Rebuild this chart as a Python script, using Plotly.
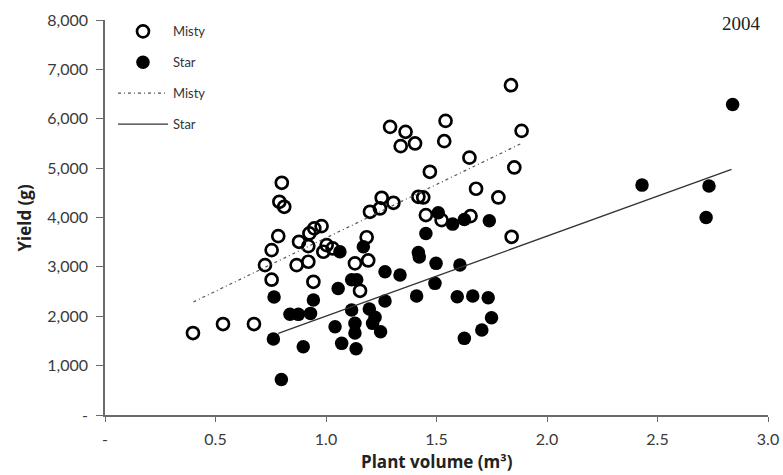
import plotly.graph_objects as go

# Misty (open circles)
misty_x = [0.398, 0.534, 0.674, 0.724, 0.754, 0.754, 0.784, 0.789, 0.800, 0.811,
           0.867, 0.878, 0.920, 0.920, 0.925, 0.947, 0.943, 0.980, 0.988, 1.003,
           1.030, 1.131, 1.154, 1.184, 1.191, 1.199, 1.244, 1.252, 1.290, 1.305,
           1.338, 1.360, 1.403, 1.418, 1.440, 1.452, 1.470, 1.523, 1.535, 1.541,
           1.649, 1.654, 1.679, 1.780, 1.837, 1.840, 1.852, 1.885]
misty_y = [1660, 1842, 1842, 3036, 3340, 2740, 3623, 4318, 4703, 4217,
           3036, 3508, 3421, 3104, 3678, 3779, 2698, 3826, 3306, 3441,
           3374, 3071, 2515, 3600, 3130, 4115, 4183, 4399, 5836, 4298,
           5445, 5735, 5500, 4419, 4406, 4049, 4926, 3947, 5546, 5957,
           5212, 4028, 4582, 4406, 6680, 3609, 5014, 5755]

# Star (filled circles)
star_x = [0.762, 0.765, 0.798, 0.837, 0.875, 0.897, 0.930, 0.943, 1.041, 1.055,
          1.063, 1.071, 1.116, 1.139, 1.116, 1.131, 1.131, 1.136, 1.169, 1.196,
          1.222, 1.211, 1.247, 1.267, 1.267, 1.335, 1.418, 1.422, 1.410, 1.452,
          1.493, 1.498, 1.508, 1.573, 1.594, 1.606, 1.626, 1.626, 1.664, 1.705,
          1.734, 1.739, 1.749, 2.430, 2.720, 2.733, 2.840]
star_y = [1538, 2390, 720, 2040, 2038, 1383, 2058, 2328, 1788, 2560,
          3306, 1451, 2740, 2740, 2126, 1856, 1660, 1340, 3408, 2146,
          1978, 1856, 1686, 2901, 2310, 2834, 3290, 3200, 2409, 3678,
          2666, 3071, 4096, 3866, 2395, 3036, 3961, 1552, 2409, 1721,
          2375, 3933, 1970, 4656, 4002, 4636, 6289]

# Fitted trend lines (end points)
misty_fit_x = [0.40, 1.887]
misty_fit_y = [2290, 5506]
star_fit_x = [0.784, 2.835]
star_fit_y = [1653, 4973]

x_ticks = [0, 0.5, 1.0, 1.5, 2.0, 2.5, 3.0]
x_ticktext = ["-", "0.5", "1.0", "1.5", "2.0", "2.5", "3.0"]
y_ticks = [0, 1000, 2000, 3000, 4000, 5000, 6000, 7000, 8000]
y_ticktext = ["-", "1,000", "2,000", "3,000", "4,000", "5,000", "6,000", "7,000", "8,000"]

FONT = "Lato"
TFONT = "Open Sans"
TICKCOL = "#3a3a3a"
AXCOL = "#6a6a6a"

fig = go.Figure()
fig.add_trace(go.Scatter(
    x=misty_x, y=misty_y, mode="markers", name="Misty", legendgroup="a",
    marker=dict(symbol="circle-open", size=12, color="black", line=dict(width=2.7, color="black")),
))
fig.add_trace(go.Scatter(
    x=star_x, y=star_y, mode="markers", name="Star", legendgroup="b",
    marker=dict(symbol="circle", size=13.5, color="black", line=dict(width=0)),
))
fig.add_trace(go.Scatter(
    x=misty_fit_x, y=misty_fit_y, mode="lines", name="Misty", legendgroup="c",
    line=dict(color="#555555", width=1.2, dash="3px,3px,1px,3px"),
))
fig.add_trace(go.Scatter(
    x=star_fit_x, y=star_fit_y, mode="lines", name="Star", legendgroup="d",
    line=dict(color="#333333", width=1.3),
))

fig.update_layout(
    width=783, height=475,
    margin=dict(l=105, r=15, t=20, b=60, autoexpand=False),
    paper_bgcolor="white", plot_bgcolor="white",
    font=dict(family=FONT, color=TICKCOL),
    showlegend=True,
    legend=dict(
        xref="container", yref="container",
        x=0.1443, y=0.9655, xanchor="left", yanchor="top",
        bgcolor="rgba(0,0,0,0)", font=dict(size=13, family=FONT, color="#333333"),
        tracegroupgap=11, itemwidth=50,
    ),
    xaxis=dict(
        range=[0, 3.0], tickvals=x_ticks, ticktext=x_ticktext, automargin=False,
        showgrid=False, zeroline=False, showline=True, linecolor=AXCOL, linewidth=1.5,
        ticks="outside", ticklen=5, tickcolor=AXCOL, tickwidth=1.2,
        tickfont=dict(size=16, family=FONT, color=TICKCOL), ticklabelstandoff=4,
    ),
    yaxis=dict(
        range=[0, 8000], tickvals=y_ticks, ticktext=y_ticktext, automargin=False,
        showgrid=False, zeroline=False, showline=True, linecolor=AXCOL, linewidth=1.5,
        ticks="outside", ticklen=7, tickcolor=AXCOL, tickwidth=1.2,
        tickfont=dict(size=16, family=FONT, color=TICKCOL), ticklabelstandoff=5,
    ),
    annotations=[
        dict(
            text="2004", x=0.96, y=0.99, xref="paper", yref="paper", xanchor="center", yanchor="middle",
            showarrow=False, font=dict(family="Liberation Serif", size=19, color="#222222"),
        ),
        dict(
            text="<b>Plant volume (m³)</b>", x=0.5, y=-0.117, xref="paper", yref="paper",
            xanchor="center", yanchor="middle", showarrow=False,
            font=dict(family=TFONT, size=17, color="#222222"),
        ),
        dict(
            text="<b>Yield (g)</b>", x=-0.122, y=0.5, xref="paper", yref="paper",
            xanchor="center", yanchor="middle", showarrow=False, textangle=-90,
            font=dict(family=TFONT, size=17, color="#222222"),
        ),
    ],
)

fig.write_html("out.html", config={"displayModeBar": False},
               post_script="document.body.style.margin='0';")
